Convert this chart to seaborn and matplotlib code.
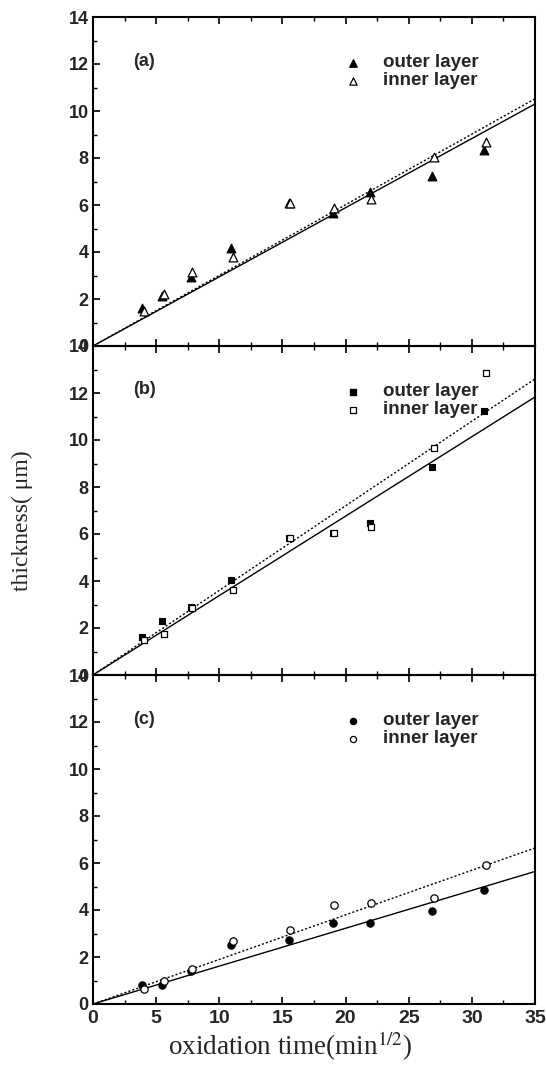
import numpy as np
import pandas as pd
import matplotlib
matplotlib.use("Agg")
import matplotlib.pyplot as plt
import seaborn as sns
from matplotlib.ticker import MultipleLocator

sns.set_theme(style="white")
plt.rcParams['font.family'] = ['Liberation Sans', 'DejaVu Sans']

# ---- data ----
x_outer = [3.87, 5.48, 7.75, 10.95, 15.49, 18.97, 21.9, 26.83, 30.98]
x_inner = [4.0, 5.6, 7.85, 11.1, 15.6, 19.1, 22.05, 27.0, 31.1]

a_outer = [1.63, 2.13, 2.94, 4.19, 6.07, 5.64, 6.54, 7.25, 8.36]
a_inner = [1.50, 2.23, 3.16, 3.79, 6.07, 5.86, 6.25, 8.06, 8.67]

b_outer = [1.63, 2.30, 2.91, 4.05, 5.85, 6.04, 6.46, 8.85, 11.22]
b_inner = [1.49, 1.73, 2.84, 3.62, 5.85, 6.04, 6.28, 9.64, 12.86]

c_outer = [0.81, 0.79, 1.39, 2.53, 2.74, 3.43, 3.43, 3.96, 4.86]
c_inner = [0.64, 0.97, 1.50, 2.67, 3.17, 4.21, 4.29, 4.50, 5.93]

fit_x = [0, 35]
fit_a_outer = [0, 10.30]
fit_a_inner = [0, 10.52]
fit_b_outer = [0, 11.83]
fit_b_inner = [0, 12.60]
fit_c_outer = [0, 5.64]
fit_c_inner = [0, 6.64]

panel_labels = ["(a)", "(b)", "(c)"]
legend_labels = ["outer layer", "inner layer"]
x_ticks = [0, 5, 10, 15, 20, 25, 30, 35]
y_ticks = [0, 2, 4, 6, 8, 10, 12, 14]

fig = plt.figure(figsize=(5.46, 10.72), dpi=100)
W, H = 546, 1072
left, right = 93, 535
tops = [17, 346, 675]
ph = 329

panels = [
    (a_outer, a_inner, fit_a_outer, fit_a_inner, '^'),
    (b_outer, b_inner, fit_b_outer, fit_b_inner, 's'),
    (c_outer, c_inner, fit_c_outer, fit_c_inner, 'o'),
]
msizes = {'^': 40, 's': 22, 'o': 28}

for i, (yo, yi, fo, fi, mk) in enumerate(panels):
    top = tops[i]
    ax = fig.add_axes([left / W, 1 - (top + ph) / H, (right - left) / W, ph / H])
    ax.set_facecolor('none')
    df_o = pd.DataFrame({'x': x_outer, 'y': yo})
    df_i = pd.DataFrame({'x': x_inner, 'y': yi})
    sns.lineplot(x=fit_x, y=fo, ax=ax, color='black', lw=1.0, linestyle='-')
    sns.lineplot(x=fit_x, y=fi, ax=ax, color='black', lw=1.0, linestyle=(0, (1.5, 1.5)))
    sns.scatterplot(data=df_o, x='x', y='y', ax=ax, marker=mk, s=msizes[mk],
                    color='black', edgecolor='black', linewidth=0.8, zorder=3)
    sns.scatterplot(data=df_i, x='x', y='y', ax=ax, marker=mk, s=msizes[mk],
                    facecolor='white', edgecolor='black', linewidth=0.9, zorder=4)
    ax.set_xlim(0, 35)
    ax.set_ylim(0, 14)
    ax.set_xticks(x_ticks)
    ax.set_yticks(y_ticks)
    ax.xaxis.set_minor_locator(MultipleLocator(2.5))
    ax.yaxis.set_minor_locator(MultipleLocator(1))
    ax.tick_params(which='both', direction='in', top=True, bottom=True,
                   left=True, right=False, color='black')
    ax.tick_params(which='major', length=5, width=1.2)
    ax.tick_params(which='minor', length=3, width=1.0)
    ax.tick_params(axis='y', labelsize=13, pad=3)
    ax.tick_params(axis='x', labelsize=14, pad=4)
    for lab in ax.get_yticklabels() + ax.get_xticklabels():
        lab.set_fontweight('bold')
    if i < 2:
        ax.set_xticklabels([])
    for sp in ax.spines.values():
        sp.set_color('black')
        sp.set_linewidth(1.5)
    ax.set_xlabel('')
    ax.set_ylabel('')
    ax.grid(False)

    # panel label
    ax.text(40 / (right - left), 1 - 44 / ph, panel_labels[i], transform=ax.transAxes,
            fontsize=13, fontweight='bold', ha='left', va='center')
    # legend
    for j, lab in enumerate(legend_labels):
        yy = 1 - (44 + 18 * j) / ph - 0.005
        xm = (353 - left) / (right - left)
        if j == 0:
            ax.scatter([xm], [yy], transform=ax.transAxes, marker=mk, s=msizes[mk] * 0.7,
                       color='black', clip_on=False)
        else:
            ax.scatter([xm], [yy], transform=ax.transAxes, marker=mk, s=msizes[mk] * 0.7,
                       facecolor='white', edgecolor='black', linewidth=0.9, clip_on=False)
        ax.text((383 - left) / (right - left), yy, lab, transform=ax.transAxes,
                fontsize=13.5, fontweight='bold', ha='left', va='center')

fig.text(22 / W, 1 - 521 / H, 'thickness( \u03bcm)', rotation=90, ha='center', va='center',
         fontsize=17, family=['Liberation Serif', 'DejaVu Serif'])
fig.text(290 / W, 1 - 1046 / H, 'oxidation time(min$^{1/2}$)', ha='center', va='center',
         fontsize=19.5, family=['Liberation Serif', 'DejaVu Serif'],
         math_fontfamily='stix')

fig.savefig('out.png', dpi=100)
